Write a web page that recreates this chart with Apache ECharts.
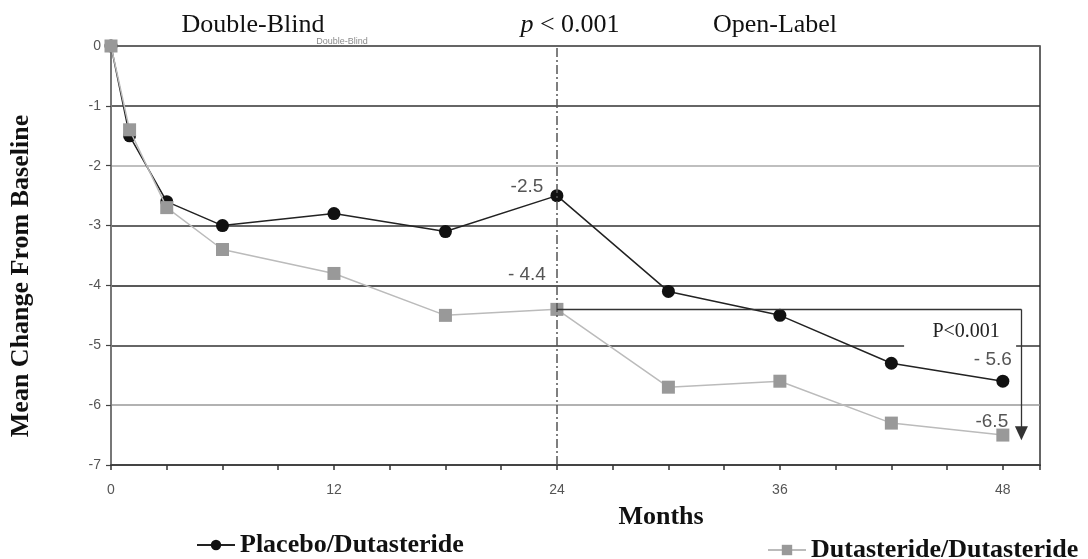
<!DOCTYPE html>
<html>
<head>
<meta charset="utf-8">
<script src="https://cdn.jsdelivr.net/npm/echarts@6/dist/echarts.min.js"></script>
<style>
  html, body { margin: 0; padding: 0; background: #fff; }
  #chart { width: 1088px; height: 559px; }
</style>
</head>
<body>
<div id="chart"></div>
<script>
// Mean change from baseline by month, two treatment arms
const months = [0, 1, 3, 6, 12, 18, 24, 30, 36, 42, 48];
const placebo = [0, -1.5, -2.6, -3.0, -2.8, -3.1, -2.5, -4.1, -4.5, -5.3, -5.6];
const dutasteride = [0, -1.4, -2.7, -3.4, -3.8, -4.5, -4.4, -5.7, -5.6, -6.3, -6.5];
const seriesNames = ['Placebo/Dutasteride', 'Dutasteride/Dutasteride'];
const xLabelMonths = [0, 12, 24, 36, 48];
const phaseNames = ['Double-Blind', 'Open-Label'];
const switchMonth = 24;
const pBetweenPhases = '0.001';
const pEndOfStudy = 'P<0.001';

// points that carry a value label: [index, spaced minus sign, offset]
const placeboLabelled = [[6, false, [-30, -9]], [10, true, [-10, -21]]];
const dutasterideLabelled = [[6, true, [-30, -35]], [10, false, [-11, -13]]];

const SERIF = "'Liberation Serif', 'Times New Roman', serif";
const SANS = "'Liberation Sans', Arial, sans-serif";

function fmtValue(v, spaced) {
  const s = Math.abs(v).toFixed(1);
  return (v < 0 ? (spaced ? '- ' : '-') : '') + s;
}

function buildData(values, labelled) {
  const out = months.map((m, i) => ({ value: [m, values[i]] }));
  labelled.forEach(([idx, spaced, off]) => {
    out[idx].label = {
      show: true,
      position: 'inside',
      offset: off,
      formatter: () => fmtValue(values[idx], spaced),
      color: '#555',
      fontFamily: SANS,
      fontSize: 19,
      textBorderWidth: 0
    };
  });
  return out;
}

const chart = echarts.init(document.getElementById('chart'), null, { renderer: 'canvas' });

const switchIdx = months.indexOf(switchMonth);

chart.setOption({
  backgroundColor: '#fff',
  animation: false,
  grid: {
    left: 111, right: 48, top: 46, bottom: 94,
    show: true, borderColor: '#333', borderWidth: 1.5, backgroundColor: 'transparent'
  },
  xAxis: {
    type: 'value', min: 0, max: 50, interval: 3,
    axisLine: { show: true, onZero: false, lineStyle: { color: '#444', width: 2 } },
    axisTick: { show: true, length: 5, lineStyle: { color: '#333', width: 1.5 } },
    axisLabel: {
      margin: 18, color: '#555', fontFamily: SANS, fontSize: 14,
      formatter: v => (xLabelMonths.includes(v) ? String(v) : '')
    },
    splitLine: { show: false }
  },
  yAxis: {
    type: 'value', min: -7, max: 0, interval: 1,
    axisLine: { show: true, lineStyle: { color: '#777', width: 2 } },
    axisTick: { show: true, length: 5, lineStyle: { color: '#444', width: 1.2 } },
    axisLabel: { margin: 10, color: '#555', fontFamily: SANS, fontSize: 14 },
    splitLine: {
      show: true,
      lineStyle: {
        color: ['#444', '#999', '#333', '#222', '#333', '#aaa', '#333', '#666'],
        width: 1.5
      }
    }
  },
  legend: [
    {
      data: [seriesNames[0]], left: 196, top: 532, padding: 0,
      itemWidth: 38, itemHeight: 13, itemGap: 0,
      textStyle: { fontFamily: SERIF, fontWeight: 'bold', fontSize: 26, color: '#111' }
    },
    {
      data: [seriesNames[1]], left: 767, top: 537, padding: 0,
      itemWidth: 38, itemHeight: 13, itemGap: 0,
      textStyle: { fontFamily: SERIF, fontWeight: 'bold', fontSize: 26, color: '#111' }
    }
  ],
  series: [
    {
      name: seriesNames[0],
      type: 'line',
      data: buildData(placebo, placeboLabelled),
      symbol: 'circle', symbolSize: 13,
      itemStyle: { color: '#111' },
      lineStyle: { color: '#222', width: 1.5 },
      z: 3,
      markLine: {
        silent: true, symbol: ['none', 'none'],
        label: { show: false },
        lineStyle: { color: '#555', width: 1.5, type: [9, 3, 2, 3] },
        data: [{ xAxis: switchMonth }]
      }
    },
    {
      name: seriesNames[1],
      type: 'line',
      data: buildData(dutasteride, dutasterideLabelled),
      symbol: 'rect', symbolSize: 13,
      itemStyle: { color: '#999' },
      lineStyle: { color: '#bbb', width: 1.5 },
      z: 4,
      markLine: {
        silent: true,
        label: { show: false },
        lineStyle: { color: '#333', width: 1.3, type: 'solid' },
        symbolSize: [13, 14],
        data: [
          [
            { coord: [switchMonth, dutasteride[switchIdx]], symbol: 'none' },
            { coord: [49, dutasteride[switchIdx]], symbol: 'none' }
          ],
          [
            { coord: [49, dutasteride[switchIdx]], symbol: 'none' },
            { coord: [49, -6.47], symbol: 'triangle' }
          ]
        ]
      },
      markPoint: {
        silent: true,
        symbol: 'rect',
        symbolSize: [112, 30],
        itemStyle: { color: '#fff' },
        label: {
          show: true, offset: [6, -1],
          formatter: pEndOfStudy,
          color: '#222', fontFamily: SERIF, fontSize: 20
        },
        data: [{ coord: [45.7, -4.79] }]
      }
    }
  ],
  graphic: [
    {
      type: 'text', x: 253, y: 25,
      style: { text: phaseNames[0], fill: '#111', font: '26px ' + SERIF, textAlign: 'center', textVerticalAlign: 'middle' }
    },
    {
      type: 'text', x: 342, y: 42,
      style: { text: phaseNames[0], fill: '#8a8a8a', font: '9px ' + SANS, textAlign: 'center', textVerticalAlign: 'middle' }
    },
    {
      type: 'text', x: 570, y: 25,
      style: {
        text: '{i|p} < ' + pBetweenPhases,
        fill: '#111', font: '26px ' + SERIF, textAlign: 'center', textVerticalAlign: 'middle',
        rich: { i: { fontStyle: 'italic', fontFamily: SERIF, fontSize: 26, fill: '#111' } }
      }
    },
    {
      type: 'text', x: 775, y: 25,
      style: { text: phaseNames[1], fill: '#111', font: '26px ' + SERIF, textAlign: 'center', textVerticalAlign: 'middle' }
    },
    {
      type: 'text', x: 661, y: 517,
      style: { text: 'Months', fill: '#111', font: 'bold 26px ' + SERIF, textAlign: 'center', textVerticalAlign: 'middle' }
    },
    {
      type: 'text', x: 21, y: 276, rotation: Math.PI / 2,
      style: { text: 'Mean Change From Baseline', fill: '#111', font: 'bold 26px ' + SERIF, textAlign: 'center', textVerticalAlign: 'middle' }
    }
  ]
});
</script>
</body>
</html>
